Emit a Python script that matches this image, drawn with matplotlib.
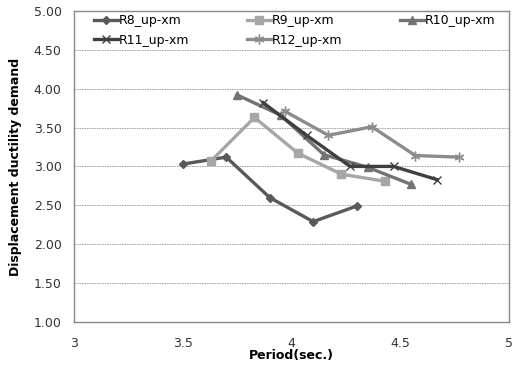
import matplotlib
matplotlib.use('Agg')
import matplotlib.pyplot as plt

# series
r8_x = [3.50, 3.70, 3.90, 4.10, 4.30]
r8_y = [3.03, 3.12, 2.60, 2.29, 2.49]
r9_x = [3.63, 3.83, 4.03, 4.23, 4.43]
r9_y = [3.07, 3.63, 3.17, 2.90, 2.81]
r10_x = [3.75, 3.95, 4.15, 4.35, 4.55]
r10_y = [3.92, 3.66, 3.15, 2.99, 2.77]
r11_x = [3.87, 4.07, 4.27, 4.47, 4.67]
r11_y = [3.82, 3.40, 3.00, 3.00, 2.83]
r12_x = [3.97, 4.17, 4.37, 4.57, 4.77]
r12_y = [3.71, 3.40, 3.51, 3.14, 3.12]

series = [
    ('R8_up-xm', r8_x, r8_y, 'D', '#595959', 4),
    ('R9_up-xm', r9_x, r9_y, 's', '#a6a6a6', 6),
    ('R10_up-xm', r10_x, r10_y, '^', '#737373', 6),
    ('R11_up-xm', r11_x, r11_y, 'x', '#3f3f3f', 6),
    ('R12_up-xm', r12_x, r12_y, (6, 2, 0), '#8c8c8c', 7),
]

fig = plt.figure(figsize=(5.15, 3.65), dpi=100)
ax = fig.add_axes([0.1437, 0.118, 0.8443, 0.852])

lines = {}
for label, xs, ys, mk, col, ms in series:
    ln, = ax.plot(xs, ys, color=col, marker=mk, markersize=ms, linewidth=2.4,
                  markeredgecolor=col, markerfacecolor=col, label=label)
    lines[label] = ln

ax.set_xlim(3, 5)
ax.set_ylim(1, 5)
ax.set_xticks([3, 3.5, 4, 4.5, 5])
ax.set_xticklabels(['3', '3.5', '4', '4.5', '5'])
ax.set_yticks([1, 1.5, 2, 2.5, 3, 3.5, 4, 4.5, 5])
ax.set_yticklabels([f'{v:.2f}' for v in ax.get_yticks()])
ax.tick_params(length=0, labelsize=9, colors='#333333')
ax.tick_params(axis='x', pad=11)
ax.tick_params(axis='y', pad=9)
ax.yaxis.grid(True, linestyle=(0, (2, 1)), color='#999999', linewidth=0.6)
ax.set_axisbelow(True)
for s in ax.spines.values():
    s.set_color('#888888')
    s.set_linewidth(1.0)

ax.set_xlabel('Period(sec.)', fontsize=9, fontweight='bold', labelpad=-1)
ax.set_ylabel('Displacement ductility demand', fontsize=9, fontweight='bold', labelpad=8)

# row-wise legend order (matplotlib fills columns first)
order = ['R8_up-xm', 'R11_up-xm', 'R9_up-xm', 'R12_up-xm', 'R10_up-xm']
ax.legend([lines[k] for k in order], order, loc='upper left',
          bbox_to_anchor=(0.02, 1.025), ncol=3, frameon=False,
          fontsize=9, handlelength=1.9, columnspacing=4.6, handletextpad=0.1,
          labelspacing=0.5)

fig.savefig('out.png', dpi=100)
